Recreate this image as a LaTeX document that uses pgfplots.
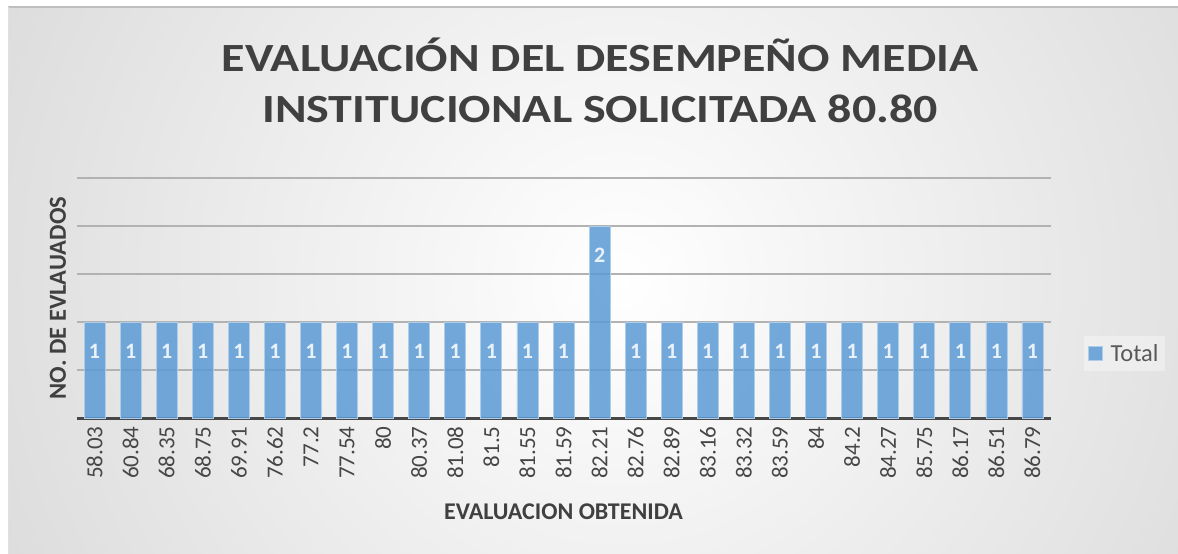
\documentclass[border=0pt]{standalone}
\usepackage{pgfplots}
\pgfplotsset{compat=1.18}
\usepackage{fontspec}
\setmainfont{Carlito}
\definecolor{barblue}{RGB}{91,155,213}
\definecolor{txt}{RGB}{64,64,64}
\definecolor{ticktxt}{RGB}{70,70,70}
\begin{document}
\begin{tikzpicture}
\useasboundingbox (0pt,0pt) rectangle (1178pt,-554pt);
\fill[white] (0pt,0pt) rectangle (1178pt,-554pt);
\begin{scope}
\clip (8pt,-7pt) rectangle (1178pt,-554pt);
\shade[inner color=white, outer color=black!26] (620pt,-280pt) circle (1300pt);
\end{scope}
\draw[black!25, line width=1.5pt] (8pt,-7pt) -- (1178pt,-7pt);
\draw[black!12, line width=1pt] (8pt,-554pt) -- (8pt,-7pt);
\node[anchor=base, text=txt, font=\fontsize{40}{40}\selectfont\bfseries] at (600pt,-71pt) {\scalebox{1.2}[1]{EVALUACIÓN DEL DESEMPEÑO MEDIA}};
\node[anchor=base, text=txt, font=\fontsize{40}{40}\selectfont\bfseries] at (600pt,-122pt) {\scalebox{1.2}[1]{INSTITUCIONAL SOLICITADA 80.80}};
\begin{axis}[
  at={(76.5pt,-418pt)}, anchor=south west,
  scale only axis, width=974pt, height=240pt,
  xmin=-0.5, xmax=26.5, ymin=0, ymax=2.5,
  xtick={0,...,26},
  xticklabels={58.03,60.84,68.35,68.75,69.91,76.62,77.2,77.54,80,80.37,81.08,81.5,81.55,81.59,82.21,82.76,82.89,83.16,83.32,83.59,84,84.2,84.27,85.75,86.17,86.51,86.79},
  xticklabel style={rotate=90, anchor=east, font=\fontsize{23}{23}\selectfont, text=ticktxt},
  xticklabel shift=5pt,
  ytick={0.5,1,1.5,2,2.5}, yticklabels={},
  ymajorgrids, grid style={line width=1.5pt, color=black!30},
  extra y ticks={0}, extra y tick labels={},
  extra y tick style={grid style={line width=3pt, color=black!72}},
  axis line style={draw=none},
  major tick length=0pt,
  ybar, bar width=21pt,
  /pgf/number format/assume math mode=true,
  nodes near coords,
  nodes near coords style={anchor=center, yshift=-29pt, text=white, font=\fontsize{22}{22}\selectfont\bfseries},
  xlabel={EVALUACION OBTENIDA},
  xlabel style={at={(axis description cs:0.5,0)}, anchor=base, yshift=-101pt, font=\fontsize{24}{24}\selectfont\bfseries, text=txt},
  ylabel={NO. DE EVLAUADOS},
  ylabel style={at={(axis description cs:-0.0108,0.5)}, anchor=base, rotate=0, font=\fontsize{24.5}{24.5}\selectfont\bfseries, text=txt},
  legend style={at={(1.034,0.269)}, anchor=west, fill=white, fill opacity=0.35, text opacity=1, draw=none, font=\fontsize{24.5}{24.5}\selectfont, text=black!65, inner xsep=4pt, inner ysep=6pt},
  legend image code/.code={\draw[fill=barblue, fill opacity=0.85, draw=barblue!50!white] (0pt,-7pt) rectangle (14pt,7pt); \path (20pt,0pt);},
]
\addplot[fill=barblue, fill opacity=0.85, draw=barblue!50!white, line width=0.8pt] coordinates {
(0,1) (1,1) (2,1) (3,1) (4,1) (5,1) (6,1) (7,1) (8,1) (9,1) (10,1) (11,1) (12,1) (13,1) (14,2) (15,1) (16,1) (17,1) (18,1) (19,1) (20,1) (21,1) (22,1) (23,1) (24,1) (25,1) (26,1)};
\legend{Total}
\end{axis}
\end{tikzpicture}
\end{document}
